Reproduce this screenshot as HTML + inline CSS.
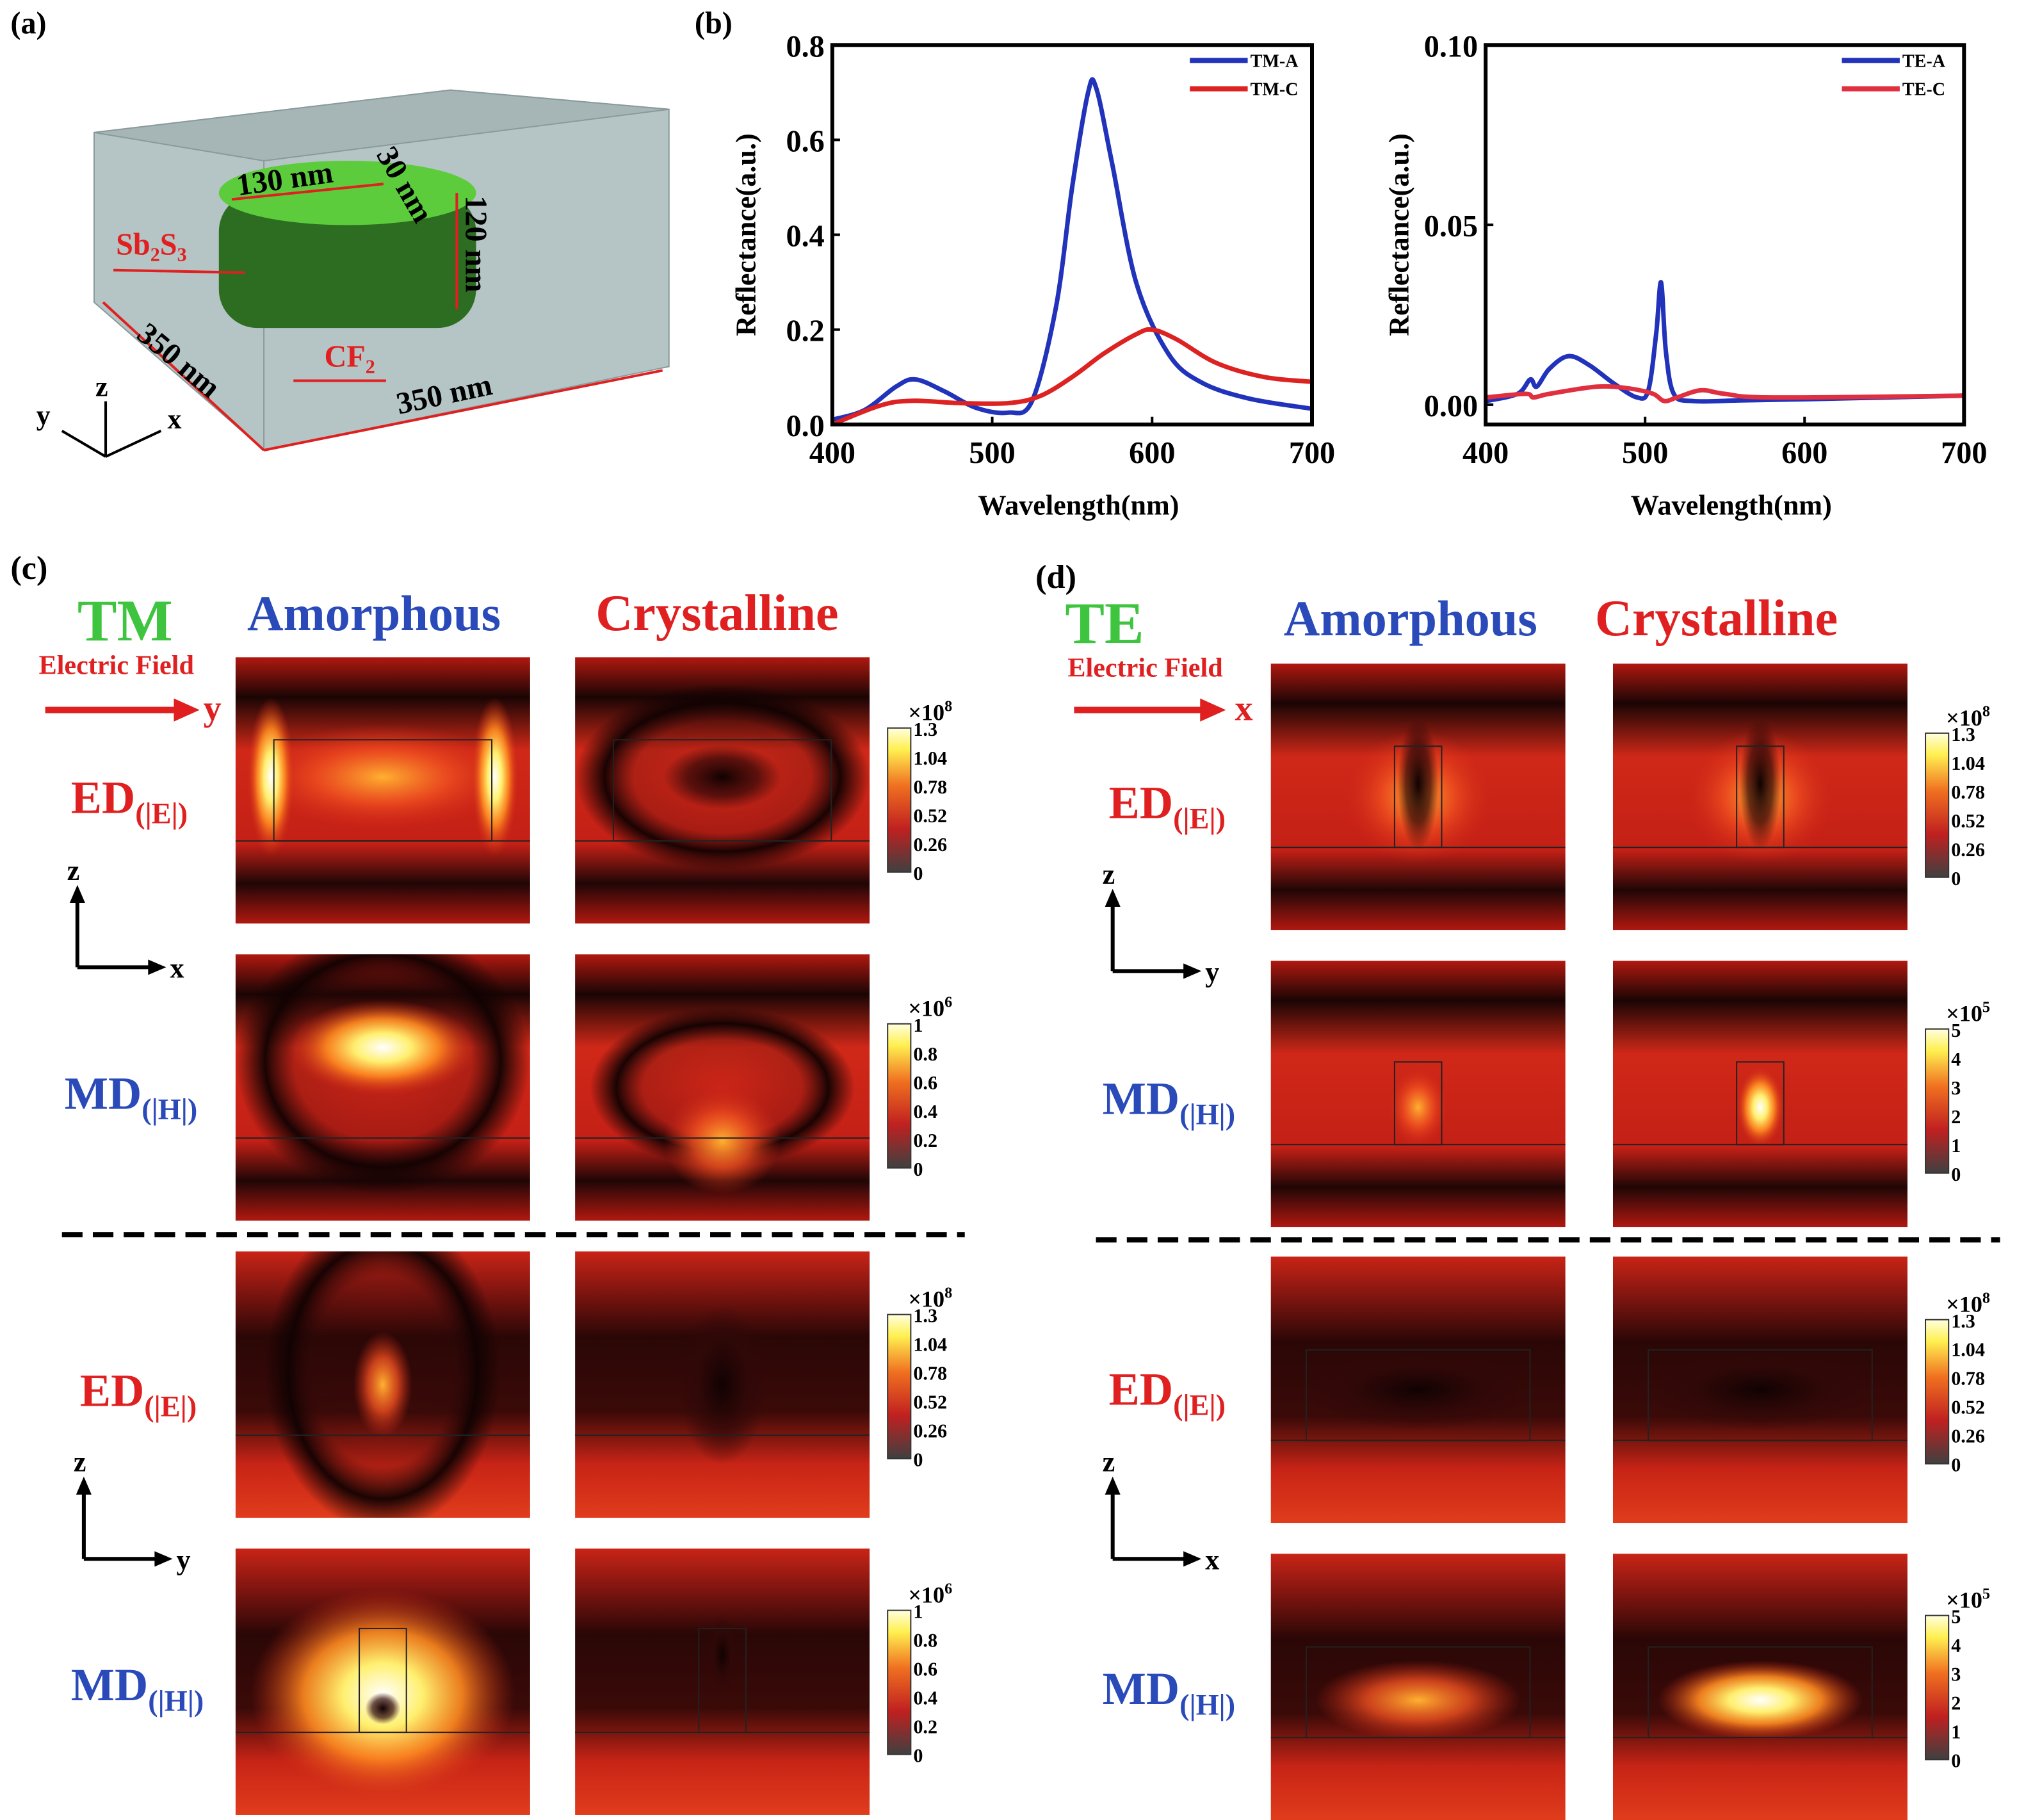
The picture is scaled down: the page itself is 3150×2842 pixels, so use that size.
<!DOCTYPE html>
<html><head><meta charset="utf-8"><style>
html,body{margin:0;padding:0;background:#fff}
svg{display:block}
text{font-family:"Liberation Serif",serif;font-weight:bold}
</style></head><body>
<svg id="fig" width="3150" height="2842" viewBox="0 0 1568 1415" xmlns="http://www.w3.org/2000/svg">
<defs>
<linearGradient id="bandH" x1="0" y1="0" x2="0" y2="1">
<stop offset="0" stop-color="#b01810"/><stop offset="0.15" stop-color="#1a0504"/><stop offset="0.35" stop-color="#d02818"/><stop offset="0.7" stop-color="#c42016"/><stop offset="0.85" stop-color="#200606"/><stop offset="1" stop-color="#b01810"/>
</linearGradient>
<linearGradient id="bandH2" x1="0" y1="0" x2="0" y2="1">
<stop offset="0" stop-color="#c82416"/><stop offset="0.15" stop-color="#801510"/><stop offset="0.32" stop-color="#2a0706"/><stop offset="0.6" stop-color="#3a0a08"/><stop offset="0.8" stop-color="#c82416"/><stop offset="1" stop-color="#e03c1c"/>
</linearGradient>
<radialGradient id="hot"><stop offset="0" stop-color="#ffffff"/><stop offset="0.3" stop-color="#fff070"/><stop offset="0.6" stop-color="#ff8a20" stop-opacity="0.9"/><stop offset="1" stop-color="#d02818" stop-opacity="0"/></radialGradient>
<radialGradient id="warm"><stop offset="0" stop-color="#ffb030"/><stop offset="0.5" stop-color="#f05020" stop-opacity="0.8"/><stop offset="1" stop-color="#d02818" stop-opacity="0"/></radialGradient>
<radialGradient id="dark"><stop offset="0" stop-color="#100202"/><stop offset="0.6" stop-color="#300808" stop-opacity="0.7"/><stop offset="1" stop-color="#300808" stop-opacity="0"/></radialGradient>
<radialGradient id="ring"><stop offset="0" stop-color="#300808" stop-opacity="0"/><stop offset="0.6" stop-color="#300808" stop-opacity="0.2"/><stop offset="0.8" stop-color="#100202" stop-opacity="0.95"/><stop offset="1" stop-color="#100202" stop-opacity="0"/></radialGradient>
<linearGradient id="cbar" x1="0" y1="1" x2="0" y2="0">
<stop offset="0" stop-color="#404040"/><stop offset="0.3" stop-color="#c02020"/><stop offset="0.6" stop-color="#f07020"/><stop offset="0.85" stop-color="#fff050"/><stop offset="1" stop-color="#ffffe0"/>
</linearGradient>
</defs>

<!-- Panel (a) -->
<g>
<text x="8" y="26" font-size="24">(a)</text>
<polygon points="73,103 350,70 520,85 520,285 205,350 73,235" fill="#b5c4c4" stroke="#8a9a9a"/>
<polygon points="73,103 350,70 520,85 205,125" fill="#a6b6b6" stroke="#8a9a9a"/>
<line x1="205" y1="125" x2="205" y2="350" stroke="#8a9a9a"/>
<rect x="170" y="150" width="200" height="105" rx="30" fill="#2d6d22"/>
<ellipse cx="270" cy="150" rx="100" ry="25" fill="#5ccc3c"/>
<text x="185" y="152" font-size="24" font-weight="normal" transform="rotate(-8 185 152)">130 nm</text>
<line x1="180" y1="155" x2="298" y2="143" stroke="#e02020" stroke-width="2"/>
<text x="292" y="120" font-size="24" font-weight="normal" transform="rotate(60 292 120)">30 nm</text>
<text x="362" y="152" font-size="24" font-weight="normal" transform="rotate(90 362 152)">120 nm</text>
<line x1="355" y1="150" x2="355" y2="240" stroke="#e02020" stroke-width="2"/>
<text x="90" y="198" font-size="24" font-weight="normal" fill="#e02020">Sb<tspan font-size="15" dy="5">2</tspan><tspan dy="-5">S</tspan><tspan font-size="15" dy="5">3</tspan></text>
<line x1="88" y1="210" x2="190" y2="212" stroke="#e02020" stroke-width="2"/>
<text x="252" y="285" font-size="24" font-weight="normal" fill="#e02020">CF<tspan font-size="15" dy="5">2</tspan></text>
<line x1="228" y1="296" x2="300" y2="296" stroke="#e02020" stroke-width="2"/>
<line x1="80" y1="235" x2="205" y2="350" stroke="#e02020" stroke-width="2"/>
<line x1="205" y1="350" x2="515" y2="288" stroke="#e02020" stroke-width="2"/>
<text x="105" y="262" font-size="24" font-weight="normal" transform="rotate(40 105 262)">350 nm</text>
<text x="310" y="322" font-size="24" font-weight="normal" transform="rotate(-12 310 322)">350 nm</text>
<g stroke="#000" stroke-width="2">
<line x1="82" y1="355" x2="82" y2="312"/><line x1="82" y1="355" x2="48" y2="335"/><line x1="82" y1="355" x2="125" y2="335"/></g>
<text x="74" y="308" font-size="22">z</text><text x="28" y="330" font-size="22">y</text><text x="130" y="333" font-size="22">x</text>
</g>

<text x="540" y="26" font-size="24">(b)</text>
<g id="chart1"></g>
<g id="chart2"></g>

<g id="maps"></g>

<text x="8" y="450" font-size="26">(c)</text>
<text x="805" y="457" font-size="26">(d)</text>
<text x="60" y="498" font-size="46" fill="#3ec43e">TM</text>
<text x="192" y="490" font-size="39" fill="#2a4aba">Amorphous</text>
<text x="463" y="490" font-size="40" fill="#e02020">Crystalline</text>
<text x="30" y="524" font-size="21" fill="#e02020">Electric Field</text>
<line x1="35" y1="552" x2="140" y2="552" stroke="#e02020" stroke-width="5"/><polygon points="155,552 135,543 135,561" fill="#e02020"/>
<text x="158" y="560" font-size="28" fill="#e02020">y</text>
<text x="828" y="500" font-size="46" fill="#3ec43e">TE</text>
<text x="998" y="494" font-size="39" fill="#2a4aba">Amorphous</text>
<text x="1240" y="494" font-size="40" fill="#e02020">Crystalline</text>
<text x="830" y="526" font-size="21" fill="#e02020">Electric Field</text>
<line x1="835" y1="552" x2="938" y2="552" stroke="#e02020" stroke-width="5"/><polygon points="953,552 933,543 933,561" fill="#e02020"/>
<text x="960" y="560" font-size="28" fill="#e02020">x</text>

<line x1="48" y1="960" x2="750" y2="960" stroke="#000" stroke-width="4" stroke-dasharray="16,8"/>
<line x1="852" y1="964" x2="1555" y2="964" stroke="#000" stroke-width="4" stroke-dasharray="16,8"/>
</svg>
<script>
const NS="http://www.w3.org/2000/svg";
function mk(p,tag,at,txt){const e=document.createElementNS(NS,tag);for(const k in at)e.setAttribute(k,at[k]);if(txt!==undefined)e.textContent=txt;p.appendChild(e);return e;}

const tmWave=[400,420,440,452,470,490,510,525,540,550,560,565,575,590,610,630,660,700];
const tmA=[0.01,0.03,0.08,0.095,0.07,0.035,0.025,0.05,0.25,0.5,0.70,0.71,0.55,0.3,0.15,0.09,0.055,0.033];
const tmCWave=[400,430,450,480,510,530,550,570,590,600,615,640,670,700];
const tmC=[0.0,0.04,0.05,0.045,0.045,0.06,0.1,0.15,0.19,0.2,0.18,0.13,0.1,0.09];
const teWave=[400,420,428,432,440,452,465,480,495,502,507,510,513,518,530,560,600,700];
const teA=[0.001,0.003,0.007,0.005,0.01,0.0135,0.011,0.006,0.002,0.004,0.02,0.034,0.015,0.003,0.001,0.0012,0.0015,0.0025];
const teCWave=[400,425,430,440,470,490,505,512,520,535,550,580,700];
const teC=[0.002,0.003,0.002,0.003,0.005,0.0045,0.003,0.001,0.002,0.004,0.003,0.002,0.0025];
const tmYTicks=[0,0.2,0.4,0.6,0.8];
const tmYLabels=["0.0","0.2","0.4","0.6","0.8"];
const teYTicks=[0,0.05,0.1];
const teYLabels=["0.00","0.05","0.10"];
const xTicks=[400,500,600,700];

function smooth(P){let d='M'+P[0][0].toFixed(1)+','+P[0][1].toFixed(1);
  for(let i=0;i<P.length-1;i++){const p0=P[Math.max(0,i-1)],p1=P[i],p2=P[i+1],p3=P[Math.min(P.length-1,i+2)];
    const c1=[p1[0]+(p2[0]-p0[0])/6,p1[1]+(p2[1]-p0[1])/6],c2=[p2[0]-(p3[0]-p1[0])/6,p2[1]-(p3[1]-p1[1])/6];
    d+='C'+c1.map(v=>v.toFixed(1)).join(',')+' '+c2.map(v=>v.toFixed(1)).join(',')+' '+p2.map(v=>v.toFixed(1)).join(',');}
  return d;}
function chart(g,box,ymin,ymax,yt,yl,series,leg){
  const X=v=>box.x+(v-400)/300*box.w, Y=v=>box.y+box.h-(v-ymin)/(ymax-ymin)*box.h;
  series.forEach(s=>{
    const d=smooth(s.x.map((v,i)=>[X(v),Y(s.y[i])]));
    const p=mk(g,'path',{d:d,fill:'none',stroke:s.c,'stroke-width':3.5,'stroke-linejoin':'round'});
    
    
  });
  const fr=mk(g,'rect',{x:box.x,y:box.y,width:box.w,height:box.h,fill:'none',stroke:'#000','stroke-width':3});
  
  
  yt.forEach((v,i)=>{mk(g,'line',{x1:box.x,x2:box.x+6,y1:Y(v),y2:Y(v),stroke:'#000','stroke-width':2});
    const t=mk(g,'text',{x:box.x-6,y:Y(v)+9,'font-size':24,'text-anchor':'end'},yl[i]);
    
    });
  xTicks.forEach(v=>{mk(g,'line',{x1:X(v),x2:X(v),y1:box.y+box.h,y2:box.y+box.h-6,stroke:'#000','stroke-width':2});
    const t=mk(g,'text',{x:X(v),y:box.y+box.h+30,'font-size':24,'text-anchor':'middle'},String(v));
    
    });
  const xt=mk(g,'text',{x:box.x+box.w/2+5,y:box.y+box.h+70,'font-size':22,'text-anchor':'middle'},'Wavelength(nm)');
  
  
  const cy=box.y+box.h/2, cx=box.x-60;
  const ytt=mk(g,'text',{x:cx,y:cy,'font-size':22,'text-anchor':'middle',transform:`rotate(-90 ${cx} ${cy})`},'Reflectance(a.u.)');
  
  
  series.forEach((s,i)=>{const ly=box.y+12+i*22;
    mk(g,'line',{x1:box.x+box.w-95,x2:box.x+box.w-50,y1:ly,y2:ly,stroke:s.c,'stroke-width':4});
    const t=mk(g,'text',{x:box.x+box.w-48,y:ly+5,'font-size':14},leg[i]);
    
    });
}
chart(document.getElementById('chart1'),{x:647,y:35,w:373,h:295},0,0.8,tmYTicks,tmYLabels,
 [{x:tmWave,y:tmA,c:'#2233bb',n:'tm-a'},{x:tmCWave,y:tmC,c:'#dd2222',n:'tm-c'}],['TM-A','TM-C']);
chart(document.getElementById('chart2'),{x:1155,y:35,w:372,h:295},-0.0055,0.10,teYTicks,teYLabels,
 [{x:teWave,y:teA,c:'#2233bb',n:'te-a'},{x:teCWave,y:teC,c:'#e03040',n:'te-c'}],['TE-A','TE-C']);

const M=document.getElementById('maps');
function panel(x,y,w,h,bg,spots,rect,name){
  const g=mk(M,'g',{});
  
  
  mk(g,'rect',{x:x,y:y,width:w,height:h,fill:'url(#'+bg+')'});
  const cp='c'+Math.round(x)+'_'+Math.round(y);
  const cl=mk(g,'clipPath',{id:cp});mk(cl,'rect',{x:x,y:y,width:w,height:h});
  const s=mk(g,'g',{'clip-path':'url(#'+cp+')'});
  spots.forEach(p=>mk(s,'ellipse',{cx:x+p[0]*w,cy:y+p[1]*h,rx:p[2]*w,ry:p[3]*h,fill:'url(#'+p[4]+')'}));
  if(rect) mk(g,'rect',{x:x+rect[0]*w,y:y+rect[1]*h,width:rect[2]*w,height:rect[3]*h,fill:'none',stroke:'#222','stroke-width':1});
  mk(g,'line',{x1:x,x2:x+w,y1:y+0.69*h,y2:y+0.69*h,stroke:'#222','stroke-width':1});
}
function cbar(x,y,labels,exp){
  const g=mk(M,'g',{});
  
  
  mk(g,'rect',{x:x,y:y,width:18,height:112,fill:'url(#cbar)',stroke:'#333'});
  labels.forEach((l,i)=>mk(g,'text',{x:x+20,y:y+118-i*112/(labels.length-1),'font-size':15,'font-weight':'normal'},l));
  const t=mk(g,'text',{x:x+16,y:y-6,'font-size':18,'font-weight':'normal'},'×10');
  mk(t,'tspan',{'font-size':12,dy:-7},exp);
}
const cx1=[183,447], cy1=[511,742,973,1204], dx1=[988,1254], dy1=[516,747,977,1208];
const W=229,H=207;
panel(cx1[0],cy1[0],W,H,'bandH',[[0.5,0.45,0.45,0.2,'warm'],[0.12,0.45,0.08,0.3,'hot'],[0.88,0.45,0.08,0.3,'hot']],[0.13,0.31,0.74,0.38],'c-ed-amorphous');
panel(cx1[1],cy1[0],W,H,'bandH',[[0.5,0.45,0.2,0.12,'dark'],[0.5,0.45,0.5,0.35,'ring']],[0.13,0.31,0.74,0.38],'c-ed-crystalline');
panel(cx1[0],cy1[1],W,H,'bandH',[[0.5,0.4,0.5,0.5,'ring'],[0.5,0.35,0.32,0.18,'hot']],null,'c-md-amorphous');
panel(cx1[1],cy1[1],W,H,'bandH',[[0.5,0.5,0.45,0.3,'ring'],[0.5,0.7,0.2,0.2,'warm']],null,'c-md-crystalline');
panel(cx1[0],cy1[2],W,H,'bandH2',[[0.5,0.45,0.4,0.6,'ring'],[0.5,0.5,0.1,0.2,'warm']],null,'c-ed-amorphous-2');
panel(cx1[1],cy1[2],W,H,'bandH2',[[0.5,0.5,0.15,0.3,'dark']],null,'c-ed-crystalline-2');
panel(cx1[0],cy1[3],W,H,'bandH2',[[0.5,0.55,0.45,0.4,'hot'],[0.5,0.6,0.06,0.06,'dark']],[0.42,0.3,0.16,0.39],'c-md-amorphous-2');
panel(cx1[1],cy1[3],W,H,'bandH2',[[0.5,0.4,0.05,0.15,'dark']],[0.42,0.3,0.16,0.39],'c-md-crystalline-2');
panel(dx1[0],dy1[0],W,H,'bandH',[[0.5,0.5,0.25,0.25,'warm'],[0.5,0.45,0.07,0.25,'dark']],[0.42,0.31,0.16,0.38],'d-ed-amorphous');
panel(dx1[1],dy1[0],W,H,'bandH',[[0.5,0.5,0.25,0.25,'warm'],[0.5,0.45,0.07,0.25,'dark']],[0.42,0.31,0.16,0.38],'d-ed-crystalline');
panel(dx1[0],dy1[1],W,H,'bandH',[[0.5,0.55,0.1,0.15,'warm']],[0.42,0.38,0.16,0.31],'d-md-amorphous');
panel(dx1[1],dy1[1],W,H,'bandH',[[0.5,0.55,0.08,0.15,'hot']],[0.42,0.38,0.16,0.31],'d-md-crystalline');
panel(dx1[0],dy1[2],W,H,'bandH2',[[0.5,0.5,0.4,0.15,'dark']],[0.12,0.35,0.76,0.34],'d-ed-amorphous-2');
panel(dx1[1],dy1[2],W,H,'bandH2',[[0.5,0.5,0.4,0.15,'dark']],[0.12,0.35,0.76,0.34],'d-ed-crystalline-2');
panel(dx1[0],dy1[3],W,H,'bandH2',[[0.5,0.55,0.35,0.15,'warm']],[0.12,0.35,0.76,0.34],'d-md-amorphous-2');
panel(dx1[1],dy1[3],W,H,'bandH2',[[0.5,0.55,0.35,0.15,'hot']],[0.12,0.35,0.76,0.34],'d-md-crystalline-2');

const edL=['0','0.26','0.52','0.78','1.04','1.3'], md6=['0','0.2','0.4','0.6','0.8','1'], md5=['0','1','2','3','4','5'];
cbar(690,566,edL,'8');cbar(690,796,md6,'6');cbar(690,1022,edL,'8');cbar(690,1252,md6,'6');
cbar(1497,570,edL,'8');cbar(1497,800,md5,'5');cbar(1497,1026,edL,'8');cbar(1497,1256,md5,'5');

const S=document.getElementById('fig');
function lab(x,y,main,sub,col){const t=mk(S,'text',{x:x,y:y,'font-size':36,fill:col},main);mk(t,'tspan',{'font-size':23,dy:8},sub);
 
 }
lab(55,632,'ED','(|E|)','#e02020');lab(50,862,'MD','(|H|)','#2a4aba');lab(62,1093,'ED','(|E|)','#e02020');lab(55,1322,'MD','(|H|)','#2a4aba');
lab(862,636,'ED','(|E|)','#e02020');lab(857,866,'MD','(|H|)','#2a4aba');lab(862,1092,'ED','(|E|)','#e02020');lab(857,1325,'MD','(|H|)','#2a4aba');
function triad(x,y,a,b){const g=mk(S,'g',{});
 
 
 mk(g,'line',{x1:x,y1:y,x2:x,y2:y-55,stroke:'#000','stroke-width':3});mk(g,'polygon',{points:`${x-6},${y-50} ${x+6},${y-50} ${x},${y-64}`});
 mk(g,'line',{x1:x,y1:y,x2:x+60,y2:y,stroke:'#000','stroke-width':3});mk(g,'polygon',{points:`${x+55},${y-6} ${x+55},${y+6} ${x+69},${y}`});
 mk(g,'text',{x:x-8,y:y-68,'font-size':22},a);mk(g,'text',{x:x+72,y:y+8,'font-size':22},b);}
triad(60,752,'z','x');triad(65,1212,'z','y');triad(865,755,'z','y');triad(865,1212,'z','x');
</script>
</body></html>
